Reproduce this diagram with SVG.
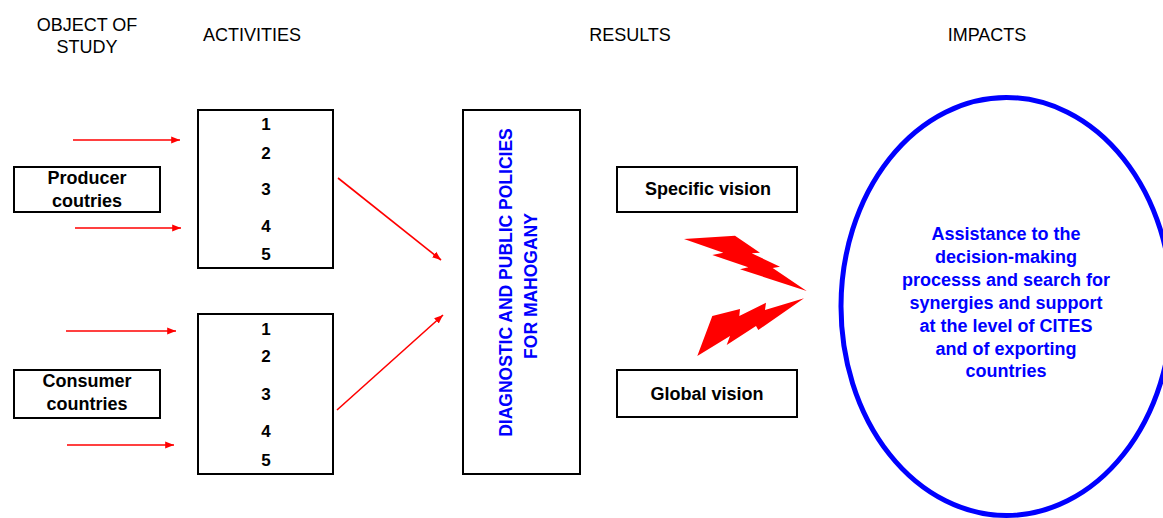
<svg xmlns="http://www.w3.org/2000/svg" width="1163" height="518" viewBox="0 0 1163 518">
<defs>
<style>
.hdr{font-family:"Liberation Sans",Arial,sans-serif;font-size:18px;fill:#000;text-anchor:middle}
.lbl{font-family:"Liberation Sans",Arial,sans-serif;font-size:18px;font-weight:bold;fill:#000;text-anchor:middle}
.num{font-family:"Liberation Sans",Arial,sans-serif;font-size:17px;font-weight:bold;fill:#000;text-anchor:middle}
.blue{font-family:"Liberation Sans",Arial,sans-serif;font-size:18px;font-weight:bold;fill:#0000ff;text-anchor:middle}
.vert{font-family:"Liberation Sans",Arial,sans-serif;font-size:17.5px;font-weight:bold;fill:#0000ff;text-anchor:middle}
.box{fill:#fff;stroke:#000;stroke-width:2}
.arr{stroke:#ff0000;stroke-width:1.6;fill:none;marker-end:url(#ah)}
.bolt{fill:#ff0000;stroke:none}
</style>
<marker id="ah" viewBox="0 0 10 10" refX="10" refY="5" markerWidth="5.5" markerHeight="5.5" orient="auto" markerUnits="strokeWidth">
<path d="M0,1 L10,5 L0,9 Z" fill="#ff0000"/>
</marker>
</defs>
<rect width="1163" height="518" fill="#fff"/>

<g id="headers">
<text class="hdr" x="87" y="31">OBJECT OF</text>
<text class="hdr" x="87" y="53">STUDY</text>
<text class="hdr" x="252" y="41">ACTIVITIES</text>
<text class="hdr" x="630" y="41">RESULTS</text>
<text class="hdr" x="987" y="41">IMPACTS</text>
</g>

<g id="connectors">
<line class="arr" x1="73" y1="140" x2="180" y2="140"/>
<line class="arr" x1="75" y1="228" x2="181" y2="228"/>
<line class="arr" x1="66" y1="331" x2="176" y2="331"/>
<line class="arr" x1="67" y1="445" x2="174" y2="445"/>
<line class="arr" x1="338" y1="178" x2="441" y2="260"/>
<line class="arr" x1="337" y1="410" x2="443" y2="315"/>
<polygon class="bolt" points="684,239 735,235.7 760,252.7 751.7,253.3 780,266.7 772.7,268 806.7,291 740,269.3 748.3,267.3 712.3,255 723.3,252.7"/>
<polygon class="bolt" points="804,298.3 758.3,330 756,326 726.7,345 730,336 697.3,356 712.3,316 740,309 739.3,316 766,302.7 765,310"/>
</g>

<g id="producer">
<rect class="box" x="14" y="167" width="146" height="45"/>
<text class="lbl" x="87" y="184">Producer</text>
<text class="lbl" x="87" y="207">coutries</text>
</g>

<g id="consumer">
<rect class="box" x="14" y="370" width="146" height="48"/>
<text class="lbl" x="87" y="387">Consumer</text>
<text class="lbl" x="87" y="410">countries</text>
</g>

<g id="activities1">
<rect class="box" x="198" y="110" width="135" height="158"/>
<text class="num" x="266" y="130">1</text>
<text class="num" x="266" y="159">2</text>
<text class="num" x="266" y="195">3</text>
<text class="num" x="266" y="232">4</text>
<text class="num" x="266" y="260">5</text>
</g>

<g id="activities2">
<rect class="box" x="198" y="314" width="135" height="160"/>
<text class="num" x="266" y="335">1</text>
<text class="num" x="266" y="362">2</text>
<text class="num" x="266" y="400">3</text>
<text class="num" x="266" y="437">4</text>
<text class="num" x="266" y="466">5</text>
</g>

<g id="results">
<rect class="box" x="463" y="110" width="117" height="364"/>
<text class="vert" transform="translate(511.5,282.5) rotate(-90)" x="0" y="0">DIAGNOSTIC AND PUBLIC POLICIES</text>
<text class="vert" transform="translate(537,286) rotate(-90)" x="0" y="0">FOR MAHOGANY</text>
</g>

<g id="specific">
<rect class="box" x="617" y="167" width="180" height="45"/>
<text class="lbl" x="708" y="195">Specific vision</text>
</g>

<g id="global">
<rect class="box" x="617" y="370" width="180" height="47"/>
<text class="lbl" x="707" y="400">Global vision</text>
</g>

<g id="impacts">
<ellipse cx="1006.5" cy="306.5" rx="165.5" ry="209" fill="#fff" stroke="#0000ff" stroke-width="5"/>
<text class="blue" x="1006" y="240">Assistance to the</text>
<text class="blue" x="1006" y="263">decision-making</text>
<text class="blue" x="1006" y="286">processs and search for</text>
<text class="blue" x="1006" y="309">synergies and support</text>
<text class="blue" x="1006" y="332">at the level of CITES</text>
<text class="blue" x="1006" y="355">and of exporting</text>
<text class="blue" x="1006" y="377">countries</text>
</g>
</svg>
